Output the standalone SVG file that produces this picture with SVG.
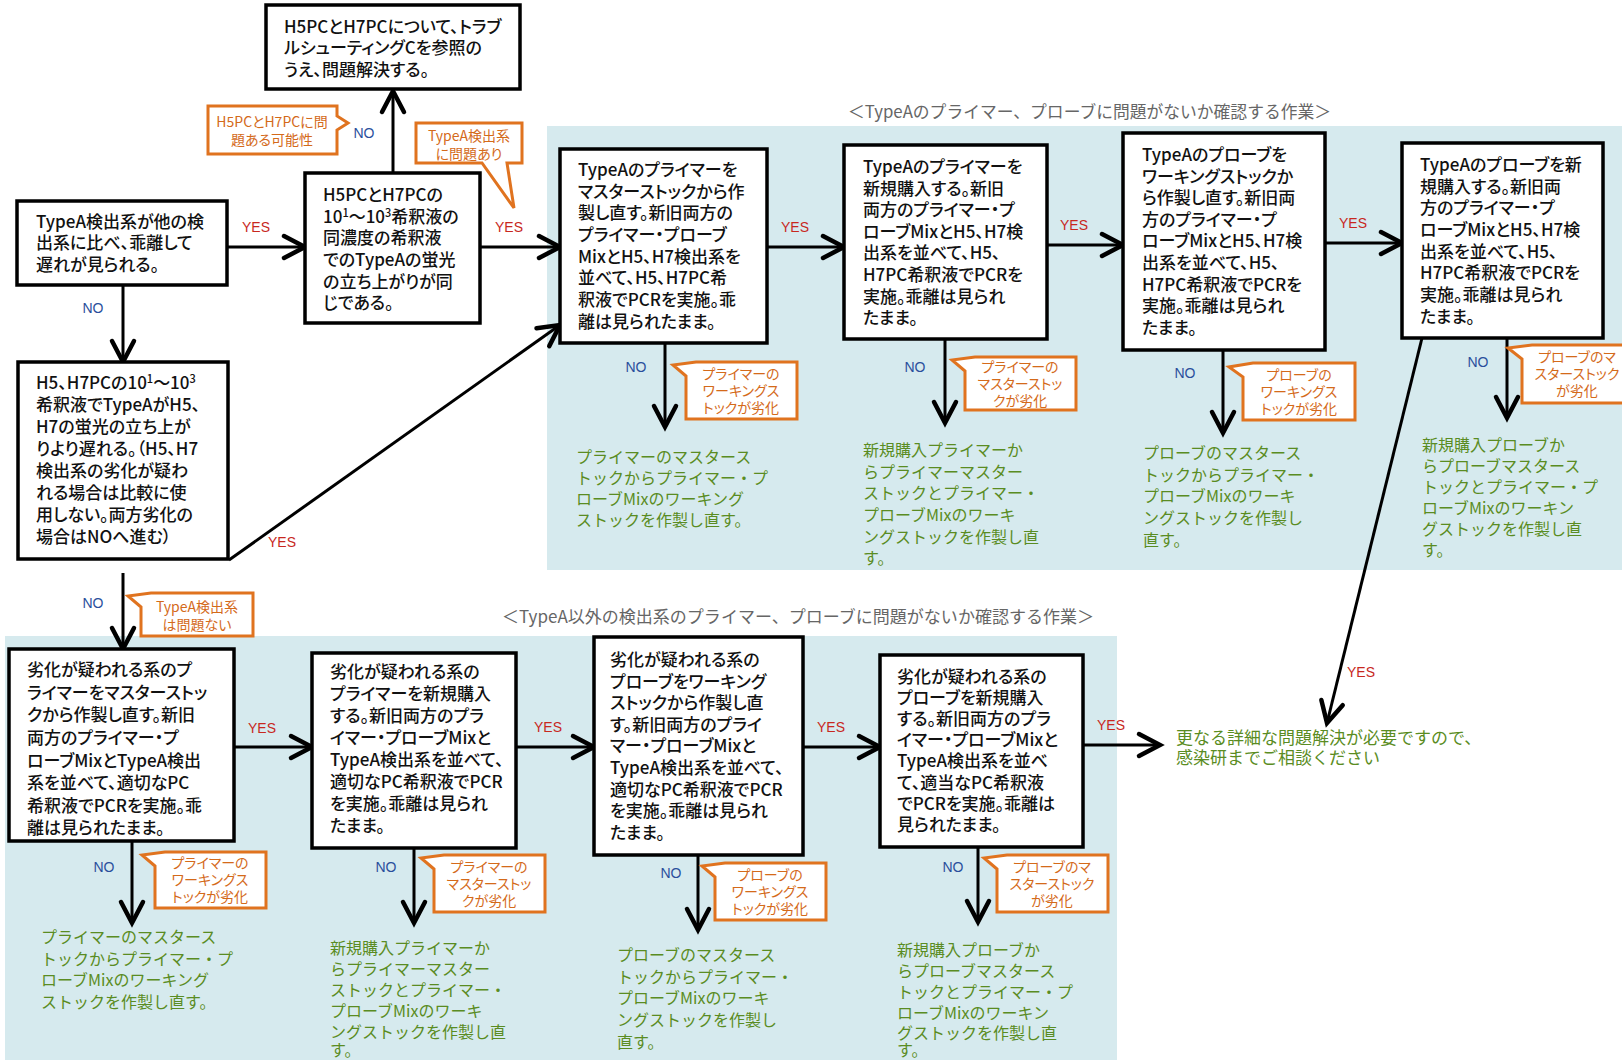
<svg xmlns="http://www.w3.org/2000/svg" width="1622" height="1060" viewBox="0 0 1622 1060">
<defs>
<style>
.bg{fill:#d6eaee}
.box{fill:#fff;stroke:#000;stroke-width:3.5}
.bt{font-family:"Noto Sans CJK JP","Noto Sans",sans-serif;font-size:17px;font-weight:500;fill:#111;font-feature-settings:"palt"}
.gt{font-family:"Noto Sans CJK JP",sans-serif;font-size:16px;fill:#5a8c22}
.ft{font-family:"Noto Sans CJK JP",sans-serif;font-size:17px;fill:#5a8c22}
.co{fill:#fff;stroke:#e0731f;stroke-width:3;stroke-linejoin:miter}
.ct{font-family:"Noto Sans CJK JP",sans-serif;font-size:14px;fill:#d46a1a;text-anchor:middle;font-feature-settings:"palt"}
.yes{font-family:"Liberation Sans",sans-serif;font-size:14px;fill:#c8281e;text-anchor:middle}
.no{font-family:"Liberation Sans",sans-serif;font-size:14px;fill:#2a4f9c;text-anchor:middle}
.ln{stroke:#000;stroke-width:3;fill:none;marker-end:url(#ah)}
.hd{font-family:"Noto Sans CJK JP",sans-serif;font-size:17px;fill:#666}
.sup{font-size:11px}
</style>
<marker id="ah" markerUnits="userSpaceOnUse" markerWidth="32" markerHeight="32" refX="24" refY="13" orient="auto" overflow="visible">
<path d="M3,2 L24,13 L3,24" fill="none" stroke="#000" stroke-width="4.5" stroke-linecap="round" stroke-linejoin="miter"/>
</marker>
</defs>

<rect width="1622" height="1060" fill="#fff"/>
<rect class="bg" x="547" y="126" width="1075" height="444"/>
<rect class="bg" x="5" y="636" width="1112" height="424"/>

<text class="hd" x="848" y="118" textLength="483" lengthAdjust="spacingAndGlyphs">＜TypeAのプライマー、プローブに問題がないか確認する作業＞</text>
<text class="hd" x="502" y="623" textLength="592" lengthAdjust="spacingAndGlyphs">＜TypeA以外の検出系のプライマー、プローブに問題がないか確認する作業＞</text>

<g id="connectors">
<path class="ln" d="M227,247 H305"/>
<path class="ln" d="M480,247 H560"/>
<path class="ln" d="M393,173 V91"/>
<path class="ln" d="M123,285 V362"/>
<path class="ln" d="M229,560 L560,325"/>
<path class="ln" d="M123,573 V649"/>
<path class="ln" d="M767,247 H844"/>
<path class="ln" d="M1047,245 H1123"/>
<path class="ln" d="M1325,243 H1402"/>
<path class="ln" d="M1422,338 L1327,723"/>
<path class="ln" d="M234,747 H312"/>
<path class="ln" d="M516,747 H594"/>
<path class="ln" d="M803,747 H880"/>
<path class="ln" d="M1083,745 H1160"/>
<path class="ln" d="M665,343 V427"/>
<path class="ln" d="M945,339 V423"/>
<path class="ln" d="M1223,350 V433"/>
<path class="ln" d="M1507,338 V418"/>
<path class="ln" d="M132,841 V923"/>
<path class="ln" d="M414,848 V923"/>
<path class="ln" d="M698,855 V930"/>
<path class="ln" d="M978,847 V922"/>
<g id="labels">
<text class="yes" x="256" y="232">YES</text>
<text class="yes" x="509" y="232">YES</text>
<text class="yes" x="282" y="547">YES</text>
<text class="yes" x="795" y="232">YES</text>
<text class="yes" x="1074" y="230">YES</text>
<text class="yes" x="1353" y="228">YES</text>
<text class="yes" x="1361" y="677">YES</text>
<text class="yes" x="262" y="733">YES</text>
<text class="yes" x="548" y="732">YES</text>
<text class="yes" x="831" y="732">YES</text>
<text class="yes" x="1111" y="730">YES</text>
<text class="no" x="93" y="313">NO</text>
<text class="no" x="364" y="138">NO</text>
<text class="no" x="93" y="608">NO</text>
<text class="no" x="636" y="372">NO</text>
<text class="no" x="915" y="372">NO</text>
<text class="no" x="1185" y="378">NO</text>
<text class="no" x="1478" y="367">NO</text>
<text class="no" x="104" y="872">NO</text>
<text class="no" x="386" y="872">NO</text>
<text class="no" x="671" y="878">NO</text>
<text class="no" x="953" y="872">NO</text>
</g>
</g>

<g id="n-top">
<rect class="box" x="266" y="5" width="254" height="84"/>
<text class="bt"><tspan x="284" y="33">H5PCとH7PCについて、トラブ</tspan><tspan x="284" y="54">ルシューティングCを参照の</tspan><tspan x="284" y="76">うえ、問題解決する。</tspan></text>
</g>

<g id="n-box1">
<rect class="box" x="17" y="201" width="210" height="84"/>
<text class="bt"><tspan x="36" y="228">TypeA検出系が他の検</tspan><tspan x="36" y="249">出系に比べ、乖離して</tspan><tspan x="36" y="271">遅れが見られる。</tspan></text>
</g>

<g id="n-box2">
<rect class="box" x="305" y="173" width="175" height="150"/>
<text class="bt"><tspan x="323" y="201">H5PCとH7PCの</tspan><tspan x="323" y="223">10<tspan class="sup" dy="-6">1</tspan><tspan dy="6">～10</tspan><tspan class="sup" dy="-6">3</tspan><tspan dy="6">希釈液の</tspan></tspan><tspan x="323" y="244">同濃度の希釈液</tspan><tspan x="323" y="266">でのTypeAの蛍光</tspan><tspan x="323" y="288">の立ち上がりが同</tspan><tspan x="323" y="309">じである。</tspan></text>
</g>

<g id="n-box4">
<rect class="box" x="18" y="362" width="210" height="197"/>
<text class="bt"><tspan x="36" y="389">H5、H7PCの10<tspan class="sup" dy="-6">1</tspan><tspan dy="6">～10</tspan><tspan class="sup" dy="-6">3</tspan></tspan><tspan x="36" y="411">希釈液でTypeAがH5、</tspan><tspan x="36" y="433">H7の蛍光の立ち上が</tspan><tspan x="36" y="455">りより遅れる。（H5、H7</tspan><tspan x="36" y="477">検出系の劣化が疑わ</tspan><tspan x="36" y="499">れる場合は比較に使</tspan><tspan x="36" y="521">用しない。両方劣化の</tspan><tspan x="36" y="543">場合はNOへ進む）</tspan></text>
</g>

<g id="n-box3">
<rect class="box" x="560" y="149" width="207" height="194"/>
<text class="bt"><tspan x="578" y="176">TypeAのプライマーを</tspan><tspan x="578" y="198">マスターストックから作</tspan><tspan x="578" y="219">製し直す。新旧両方の</tspan><tspan x="578" y="241">プライマー・プローブ</tspan><tspan x="578" y="263">MixとH5、H7検出系を</tspan><tspan x="578" y="284">並べて、H5、H7PC希</tspan><tspan x="578" y="306">釈液でPCRを実施。乖</tspan><tspan x="578" y="328">離は見られたまま。</tspan></text>
</g>

<g id="n-box9">
<rect class="box" x="844" y="145" width="203" height="194"/>
<text class="bt"><tspan x="863" y="173">TypeAのプライマーを</tspan><tspan x="863" y="195">新規購入する。新旧</tspan><tspan x="863" y="216">両方のプライマー・プ</tspan><tspan x="863" y="238">ローブMixとH5、H7検</tspan><tspan x="863" y="259">出系を並べて、H5、</tspan><tspan x="863" y="281">H7PC希釈液でPCRを</tspan><tspan x="863" y="303">実施。乖離は見られ</tspan><tspan x="863" y="324">たまま。</tspan></text>
</g>

<g id="n-box10">
<rect class="box" x="1123" y="133" width="202" height="217"/>
<text class="bt"><tspan x="1142" y="161">TypeAのプローブを</tspan><tspan x="1142" y="183">ワーキングストックか</tspan><tspan x="1142" y="204">ら作製し直す。新旧両</tspan><tspan x="1142" y="226">方のプライマー・プ</tspan><tspan x="1142" y="247">ローブMixとH5、H7検</tspan><tspan x="1142" y="269">出系を並べて、H5、</tspan><tspan x="1142" y="291">H7PC希釈液でPCRを</tspan><tspan x="1142" y="312">実施。乖離は見られ</tspan><tspan x="1142" y="334">たまま。</tspan></text>
</g>

<g id="n-box12">
<rect class="box" x="1402" y="143" width="201" height="195"/>
<text class="bt"><tspan x="1420" y="171">TypeAのプローブを新</tspan><tspan x="1420" y="193">規購入する。新旧両</tspan><tspan x="1420" y="214">方のプライマー・プ</tspan><tspan x="1420" y="236">ローブMixとH5、H7検</tspan><tspan x="1420" y="258">出系を並べて、H5、</tspan><tspan x="1420" y="279">H7PC希釈液でPCRを</tspan><tspan x="1420" y="301">実施。乖離は見られ</tspan><tspan x="1420" y="323">たまま。</tspan></text>
</g>

<g id="n-box5">
<rect class="box" x="9" y="649" width="225" height="192"/>
<text class="bt"><tspan x="27" y="676">劣化が疑われる系のプ</tspan><tspan x="27" y="699">ライマーをマスターストッ</tspan><tspan x="27" y="721">クから作製し直す。新旧</tspan><tspan x="27" y="744">両方のプライマー・プ</tspan><tspan x="27" y="767">ローブMixとTypeA検出</tspan><tspan x="27" y="789">系を並べて、適切なPC</tspan><tspan x="27" y="812">希釈液でPCRを実施。乖</tspan><tspan x="27" y="834">離は見られたまま。</tspan></text>
</g>

<g id="n-box6">
<rect class="box" x="312" y="653" width="204" height="195"/>
<text class="bt"><tspan x="330" y="678">劣化が疑われる系の</tspan><tspan x="330" y="700">プライマーを新規購入</tspan><tspan x="330" y="722">する。新旧両方のプラ</tspan><tspan x="330" y="744">イマー・プローブMixと</tspan><tspan x="330" y="766">TypeA検出系を並べて、</tspan><tspan x="330" y="788">適切なPC希釈液でPCR</tspan><tspan x="330" y="810">を実施。乖離は見られ</tspan><tspan x="330" y="832">たまま。</tspan></text>
</g>

<g id="n-box7">
<rect class="box" x="594" y="637" width="209" height="218"/>
<text class="bt"><tspan x="610" y="666">劣化が疑われる系の</tspan><tspan x="610" y="688">プローブをワーキング</tspan><tspan x="610" y="709">ストックから作製し直</tspan><tspan x="610" y="731">す。新旧両方のプライ</tspan><tspan x="610" y="752">マー・プローブMixと</tspan><tspan x="610" y="774">TypeA検出系を並べて、</tspan><tspan x="610" y="796">適切なPC希釈液でPCR</tspan><tspan x="610" y="817">を実施。乖離は見られ</tspan><tspan x="610" y="839">たまま。</tspan></text>
</g>

<g id="n-box8">
<rect class="box" x="880" y="655" width="203" height="192"/>
<text class="bt"><tspan x="897" y="683">劣化が疑われる系の</tspan><tspan x="897" y="704">プローブを新規購入</tspan><tspan x="897" y="725">する。新旧両方のプラ</tspan><tspan x="897" y="746">イマー・プローブMixと</tspan><tspan x="897" y="767">TypeA検出系を並べ</tspan><tspan x="897" y="789">て、適当なPC希釈液</tspan><tspan x="897" y="810">でPCRを実施。乖離は</tspan><tspan x="897" y="831">見られたまま。</tspan></text>
</g>

<g id="callouts">
<g id="c-top1"><path class="co" d="M208,106 H337 V116 L348,123 L337,130 V154 H208 Z"/><text class="ct"><tspan x="272" y="127">H5PCとH7PCに問</tspan><tspan x="272" y="145">題ある可能性</tspan></text></g>
<g id="c-top2"><path class="co" d="M416,123 H522 V163 H507 L514,208 L482,163 H416 Z"/><text class="ct"><tspan x="469" y="141">TypeA検出系</tspan><tspan x="469" y="159">に問題あり</tspan></text></g>
<g id="c-no1"><path class="co" d="M151,593 H253 V636 H141 V607 L128,596 Z"/><text class="ct"><tspan x="197" y="612">TypeA検出系</tspan><tspan x="197" y="630">は問題ない</tspan></text></g>
<g id="c3"><path class="co" d="M696,362 H797 V419 H686 V376 L673,365 Z"/><text class="ct"><tspan x="741" y="379">プライマーの</tspan><tspan x="741" y="396">ワーキングス</tspan><tspan x="741" y="413">トックが劣化</tspan></text></g>
<g id="c9"><path class="co" d="M975,357 H1076 V410 H965 V371 L952,360 Z"/><text class="ct"><tspan x="1020" y="372">プライマーの</tspan><tspan x="1020" y="389">マスターストッ</tspan><tspan x="1020" y="406">クが劣化</tspan></text></g>
<g id="c10"><path class="co" d="M1253,363 H1355 V420 H1243 V377 L1229,367 Z"/><text class="ct"><tspan x="1299" y="380">プローブの</tspan><tspan x="1299" y="397">ワーキングス</tspan><tspan x="1299" y="414">トックが劣化</tspan></text></g>
<g id="c12"><path class="co" d="M1532,345 H1640 V403 H1522 V359 L1508,348 Z"/><text class="ct"><tspan x="1577" y="362">プローブのマ</tspan><tspan x="1577" y="379">スターストック</tspan><tspan x="1577" y="396">が劣化</tspan></text></g>
<g id="c5"><path class="co" d="M165,852 H266 V908 H155 V866 L142,855 Z"/><text class="ct"><tspan x="210" y="868">プライマーの</tspan><tspan x="210" y="885">ワーキングス</tspan><tspan x="210" y="902">トックが劣化</tspan></text></g>
<g id="c6"><path class="co" d="M444,855 H545 V912 H434 V869 L421,858 Z"/><text class="ct"><tspan x="489" y="872">プライマーの</tspan><tspan x="489" y="889">マスターストッ</tspan><tspan x="489" y="906">クが劣化</tspan></text></g>
<g id="c7"><path class="co" d="M725,863 H826 V920 H715 V877 L702,866 Z"/><text class="ct"><tspan x="770" y="880">プローブの</tspan><tspan x="770" y="897">ワーキングス</tspan><tspan x="770" y="914">トックが劣化</tspan></text></g>
<g id="c8"><path class="co" d="M1007,855 H1108 V912 H997 V869 L984,858 Z"/><text class="ct"><tspan x="1052" y="872">プローブのマ</tspan><tspan x="1052" y="889">スターストック</tspan><tspan x="1052" y="906">が劣化</tspan></text></g>
</g>

<g id="n-g3"><text class="gt"><tspan x="576" y="463">プライマーのマスタース</tspan><tspan x="576" y="484">トックからプライマー・プ</tspan><tspan x="576" y="505">ローブMixのワーキング</tspan><tspan x="576" y="526">ストックを作製し直す。</tspan></text></g>
<g id="n-g9"><text class="gt"><tspan x="863" y="456">新規購入プライマーか</tspan><tspan x="863" y="478">らプライマーマスター</tspan><tspan x="863" y="499">ストックとプライマー・</tspan><tspan x="863" y="521">プローブMixのワーキ</tspan><tspan x="863" y="543">ングストックを作製し直</tspan><tspan x="863" y="564">す。</tspan></text></g>
<g id="n-g10"><text class="gt"><tspan x="1143" y="459">プローブのマスタース</tspan><tspan x="1143" y="481">トックからプライマー・</tspan><tspan x="1143" y="502">プローブMixのワーキ</tspan><tspan x="1143" y="524">ングストックを作製し</tspan><tspan x="1143" y="546">直す。</tspan></text></g>
<g id="n-g12"><text class="gt"><tspan x="1422" y="451">新規購入プローブか</tspan><tspan x="1422" y="472">らプローブマスタース</tspan><tspan x="1422" y="493">トックとプライマー・プ</tspan><tspan x="1422" y="514">ローブMixのワーキン</tspan><tspan x="1422" y="535">グストックを作製し直</tspan><tspan x="1422" y="556">す。</tspan></text></g>
<g id="n-g5"><text class="gt"><tspan x="41" y="943">プライマーのマスタース</tspan><tspan x="41" y="965">トックからプライマー・プ</tspan><tspan x="41" y="986">ローブMixのワーキング</tspan><tspan x="41" y="1008">ストックを作製し直す。</tspan></text></g>
<g id="n-g6"><text class="gt"><tspan x="330" y="954">新規購入プライマーか</tspan><tspan x="330" y="975">らプライマーマスター</tspan><tspan x="330" y="996">ストックとプライマー・</tspan><tspan x="330" y="1017">プローブMixのワーキ</tspan><tspan x="330" y="1038">ングストックを作製し直</tspan><tspan x="330" y="1056">す。</tspan></text></g>
<g id="n-g7"><text class="gt"><tspan x="617" y="961">プローブのマスタース</tspan><tspan x="617" y="983">トックからプライマー・</tspan><tspan x="617" y="1004">プローブMixのワーキ</tspan><tspan x="617" y="1026">ングストックを作製し</tspan><tspan x="617" y="1048">直す。</tspan></text></g>
<g id="n-g8"><text class="gt"><tspan x="897" y="956">新規購入プローブか</tspan><tspan x="897" y="977">らプローブマスタース</tspan><tspan x="897" y="998">トックとプライマー・プ</tspan><tspan x="897" y="1019">ローブMixのワーキン</tspan><tspan x="897" y="1039">グストックを作製し直</tspan><tspan x="897" y="1056">す。</tspan></text></g>
<g id="n-final"><text class="ft"><tspan x="1176" y="744">更なる詳細な問題解決が必要ですので、</tspan><tspan x="1176" y="764">感染研までご相談ください</tspan></text></g>
</svg>
